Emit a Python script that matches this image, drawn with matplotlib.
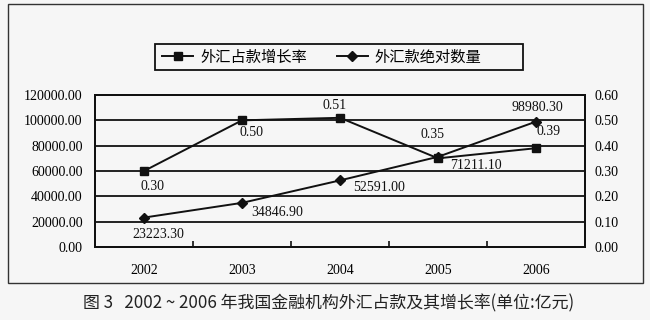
import matplotlib
matplotlib.use("Agg")
import matplotlib.pyplot as plt
from matplotlib.patches import Rectangle
from matplotlib.lines import Line2D

years = ["2002", "2003", "2004", "2005", "2006"]
growth_rate = [0.30, 0.50, 0.51, 0.35, 0.39]
amount = [23223.30, 34846.90, 52591.00, 71211.10, 98980.30]
left_ticks = [0, 20000, 40000, 60000, 80000, 100000, 120000]
right_ticks = [0.0, 0.1, 0.2, 0.3, 0.4, 0.5, 0.6]
series_names = ["外汇占款增长率", "外汇款绝对数量"]
caption = "图 3   2002 ~ 2006 年我国金融机构外汇占款及其增长率(单位:亿元)"

# label offsets (points) – styling only
rate_offsets = [(6, -11), (7, -9), (-4, 9), (-4, 17), (9, 12)]
amount_offsets = [(10, -12), (25, -7), (28, -5), (27, -6), (1, 10)]

SERIF = ["Liberation Serif", "DejaVu Serif"]
CJK = ["Noto Sans CJK SC", "DejaVu Sans"]
BG = "#f6f6f6"
INK = "#111111"

fig = plt.figure(figsize=(6.5, 3.2), dpi=100, facecolor=BG)

# outer frame
fig.patches.append(Rectangle((8 / 650, 1 - 283 / 320), 635 / 650, 279 / 320,
                             transform=fig.transFigure, fill=False,
                             edgecolor="#333333", linewidth=1.0))
# legend box
fig.patches.append(Rectangle((155 / 650, 1 - 70 / 320), 368 / 650, 26 / 320,
                             transform=fig.transFigure, fill=False,
                             edgecolor=INK, linewidth=1.3))

ax = fig.add_axes([95 / 650, 1 - 247 / 320, 490 / 650, 152 / 320])
ax.set_facecolor(BG)
ax2 = ax.twinx()

x = list(range(len(years)))

ax.set_xlim(-0.5, len(years) - 0.5)
ax.set_ylim(0, 120000)
ax2.set_ylim(0, 0.6)

ax.set_yticks(left_ticks)
ax.set_yticklabels([f"{v:.2f}" for v in left_ticks], fontfamily=SERIF, fontsize=10)
ax2.set_yticks(right_ticks)
ax2.set_yticklabels([f"{v:.2f}" for v in right_ticks], fontfamily=SERIF, fontsize=10)
ax.tick_params(axis="y", length=0, pad=9)
ax2.tick_params(axis="y", length=0, pad=7)

ax.set_xticks([i + 0.5 for i in x[:-1]])
ax.set_xticklabels([])
ax.tick_params(axis="x", which="major", direction="in", length=4, width=1.2, color=INK)
ax.set_xticks(x, minor=True)
ax.set_xticklabels(years, minor=True, fontfamily=SERIF, fontsize=10)
ax.tick_params(axis="x", which="minor", length=0, pad=12)

ax.yaxis.grid(True, color=INK, linewidth=1.3)
ax.set_axisbelow(True)

for a in (ax, ax2):
    for sp in a.spines.values():
        sp.set_linewidth(1.4)
        sp.set_color(INK)

l2, = ax.plot(x, amount, color=INK, linewidth=1.4, marker="D", markersize=5, zorder=3)
l1, = ax2.plot(x, growth_rate, color=INK, linewidth=1.4, marker="s", markersize=6, zorder=3)

for xi, v, off in zip(x, growth_rate, rate_offsets):
    ax2.annotate(f"{v:.2f}", (xi, v), xytext=off, textcoords="offset points",
                 ha="center", va="center", fontfamily=SERIF, fontsize=10, color=INK)
for xi, v, off in zip(x, amount, amount_offsets):
    ax.annotate(f"{v:.2f}", (xi, v), xytext=off, textcoords="offset points",
                ha="center", va="center", fontfamily=SERIF, fontsize=10, color=INK)

h1 = Line2D([], [], color=INK, linewidth=1.4, marker="s", markersize=6)
h2 = Line2D([], [], color=INK, linewidth=1.4, marker="D", markersize=5)
leg = fig.legend([h1, h2], series_names, loc="center left",
                 bbox_to_anchor=(162 / 650, 1 - 57 / 320), ncol=2,
                 prop={"family": CJK, "size": 11}, frameon=False,
                 handlelength=2.03, handletextpad=0.46, columnspacing=1.96,
                 borderpad=0, borderaxespad=0)

fig.text(329 / 650, 1 - 303 / 320, caption, ha="center", va="center",
         fontfamily=CJK, fontsize=12.2, fontweight="medium", color="#222222")

fig.savefig("out.png", dpi=100, facecolor=BG)
